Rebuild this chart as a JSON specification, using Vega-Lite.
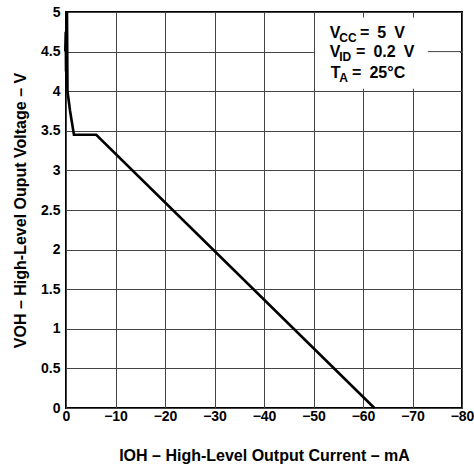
{
  "$schema": "https://vega.github.io/schema/vega-lite/v6.json",
  "width": 396,
  "height": 396,
  "autosize": {"type": "none"},
  "padding": {"left": 66, "top": 12, "right": 12, "bottom": 60},
  "background": "white",
  "config": {
    "font": "Liberation Sans",
    "view": {"stroke": "black", "strokeWidth": 2}
  },
  "datasets": {
    "curve": [
      {"i": -0.2, "v": 5.0},
      {"i": 0.05, "v": 4.75},
      {"i": 0.15, "v": 4.5},
      {"i": 0.0, "v": 4.25},
      {"i": -0.3, "v": 4.0},
      {"i": -0.8, "v": 3.76},
      {"i": -1.6, "v": 3.45},
      {"i": -6.1, "v": 3.45},
      {"i": -62.3, "v": 0.0}
    ],
    "box": [{"i": -50.3, "i2": -79.6, "v": 4.03, "v2": 4.93}],
    "gridbit": [{"i": -73.1, "i2": -80, "v": 4.5}],
    "main": [
      {"t": "V", "i": -53.3, "v": 4.672},
      {"t": "=\u20025\u2002V", "i": -59.4, "v": 4.672},
      {"t": "V", "i": -53.3, "v": 4.426},
      {"t": "=\u20020.2\u2002V", "i": -58.6, "v": 4.426},
      {"t": "T", "i": -53.5, "v": 4.167},
      {"t": "=\u200225°C", "i": -57.8, "v": 4.167}
    ],
    "sub": [
      {"t": "CC", "i": -55.2, "v": 4.672},
      {"t": "ID", "i": -55.2, "v": 4.426},
      {"t": "A", "i": -55.2, "v": 4.167}
    ]
  },
  "encoding": {
    "x": {
      "field": "i", "type": "quantitative",
      "scale": {"domain": [-80, 0], "reverse": true, "nice": false, "zero": false},
      "axis": {
        "values": [0, -10, -20, -30, -40, -50, -60, -70, -80],
        "labelExpr": "datum.value == 0 ? '0' : '\u2212' + abs(datum.value)",
        "labelFont": "Liberation Sans", "labelFontWeight": "bold", "labelFontSize": 14, "labelColor": "black",
        "labelPadding": 1, "ticks": false, "domain": false,
        "grid": true, "gridColor": "#444", "gridWidth": 1,
        "title": "IOH – High-Level  Output Current – mA",
        "titleFont": "Liberation Sans", "titleFontWeight": "bold", "titleFontSize": 16, "titleColor": "black",
        "titlePadding": 24,
        "labelFlush": false, "labelOverlap": false
      }
    },
    "y": {
      "field": "v", "type": "quantitative",
      "scale": {"domain": [0, 5], "nice": false, "zero": false},
      "axis": {
        "values": [0, 0.5, 1, 1.5, 2, 2.5, 3, 3.5, 4, 4.5, 5],
        "format": "~g",
        "labelFont": "Liberation Sans", "labelFontWeight": "bold", "labelFontSize": 14, "labelColor": "black",
        "labelPadding": 6, "ticks": false, "domain": false,
        "grid": true, "gridColor": "#444", "gridWidth": 1,
        "title": "VOH – High-Level Ouput Voltage – V",
        "titleFont": "Liberation Sans", "titleFontWeight": "bold", "titleFontSize": 16, "titleColor": "black",
        "titlePadding": 12,
        "labelFlush": false, "labelOverlap": false
      }
    }
  },
  "layer": [
    {
      "data": {"name": "curve"},
      "mark": {"type": "line", "color": "black", "strokeWidth": 2.6, "clip": false},
      "encoding": {"order": {"value": 0}}
    },
    {
      "data": {"name": "box"},
      "mark": {"type": "rect", "fill": "white"},
      "encoding": {"x2": {"field": "i2"}, "y2": {"field": "v2"}}
    },
    {
      "data": {"name": "gridbit"},
      "mark": {"type": "rule", "color": "#444", "strokeWidth": 1},
      "encoding": {"x2": {"field": "i2"}}
    },
    {
      "data": {"name": "main"},
      "mark": {"type": "text", "align": "left", "baseline": "alphabetic", "font": "Liberation Sans", "fontWeight": "bold", "fontSize": 16, "color": "black"},
      "encoding": {"text": {"field": "t"}}
    },
    {
      "data": {"name": "sub"},
      "mark": {"type": "text", "align": "left", "baseline": "alphabetic", "dy": 4, "font": "Liberation Sans", "fontWeight": "bold", "fontSize": 12, "color": "black"},
      "encoding": {"text": {"field": "t"}}
    }
  ]
}
